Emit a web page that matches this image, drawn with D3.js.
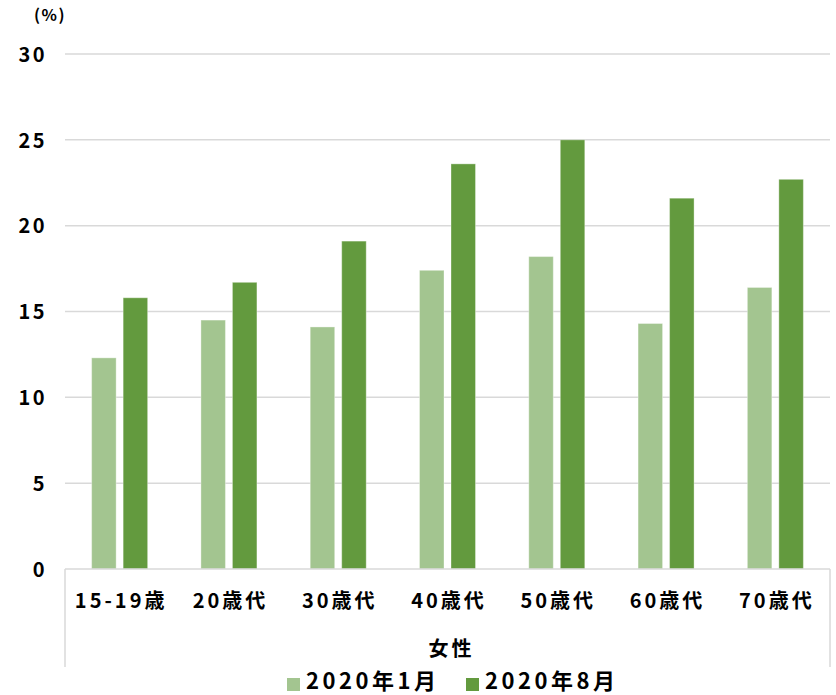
<!DOCTYPE html>
<html>
<head>
<meta charset="utf-8">
<script src="https://cdn.jsdelivr.net/npm/d3@7"></script>
<style>
  html, body { margin: 0; padding: 0; background: #fff; }
  svg { display: block; }
  text { font-family: "Noto Sans CJK JP", "Noto Sans", sans-serif; font-weight: 700; fill: #000; }
</style>
</head>
<body>
<svg id="chart" width="836" height="695"></svg>
<script>
// Age groups (women) and share by survey month, in percent
const categories = ["15-19歳", "20歳代", "30歳代", "40歳代", "50歳代", "60歳代", "70歳代"];
const seriesNames = ["2020年1月", "2020年8月"];
const jan2020 = [12.3, 14.5, 14.1, 17.4, 18.2, 14.3, 16.4];
const aug2020 = [15.8, 16.7, 19.1, 23.6, 25.0, 21.6, 22.7];
const yTicks = [0, 5, 10, 15, 20, 25, 30];
const groupLabel = "女性";
const unitLabel = "(%)";

const colors = ["#a3c590", "#639a3e"];
const gridColor = "#d9d9d9";

const svg = d3.select("#chart");
const plotLeft = 65, plotRight = 830, plotTop = 54, plotBottom = 569;

const x = d3.scaleBand().domain(categories).range([plotLeft, plotRight]).paddingInner(0).paddingOuter(0);
const y = d3.scaleLinear().domain([0, 30]).range([plotBottom, plotTop]);

// Gridlines
svg.append("g")
  .selectAll("line")
  .data(yTicks.filter(t => t > 0))
  .join("line")
  .attr("x1", plotLeft).attr("x2", plotRight)
  .attr("y1", d => y(d)).attr("y2", d => y(d))
  .attr("stroke", gridColor).attr("stroke-width", 1.5);

// Y-axis tick labels
const yAxis = d3.axisLeft(y).tickValues(yTicks).tickSize(0).tickPadding(0);
const yg = svg.append("g").attr("transform", `translate(${plotLeft - 18},0)`).call(yAxis);
yg.select(".domain").remove();
yg.selectAll("text")
  .style("font-size", "20px")
  .style("letter-spacing", "2.5px")
  .attr("dy", "0.36em");

svg.append("text")
  .attr("x", 50).attr("y", 21)
  .attr("text-anchor", "middle")
  .style("font-size", "16px")
  .style("letter-spacing", "1.5px")
  .text(unitLabel);

// Bars
const barW = 24.5, gap = 7;
const series = [jan2020, aug2020];
series.forEach((vals, si) => {
  svg.append("g")
    .selectAll("rect")
    .data(vals.map((v, i) => ({ cat: categories[i], v })))
    .join("rect")
    .attr("x", d => x(d.cat) + x.bandwidth() / 2 - gap / 2 - barW + si * (barW + gap))
    .attr("y", d => y(d.v))
    .attr("width", barW)
    .attr("height", d => plotBottom - y(d.v))
    .attr("fill", colors[si])
    .attr("stroke", "#ffffff")
    .attr("stroke-opacity", 0.35)
    .attr("stroke-width", 1);
});

// Category axis
const xg = svg.append("g").attr("transform", `translate(0,${plotBottom})`)
  .call(d3.axisBottom(x).tickSize(0).tickPadding(0));
xg.select(".domain").remove();
xg.selectAll("text")
  .attr("y", 39)
  .attr("dy", null)
  .attr("dx", 1.5)
  .style("font-size", "20px")
  .style("letter-spacing", "3px");

svg.append("line")
  .attr("x1", plotLeft).attr("x2", plotRight)
  .attr("y1", plotBottom).attr("y2", plotBottom)
  .attr("stroke", gridColor).attr("stroke-width", 1.5);
[plotLeft, plotRight].forEach(xx => {
  svg.append("line")
    .attr("x1", xx).attr("x2", xx)
    .attr("y1", plotBottom).attr("y2", 667)
    .attr("stroke", gridColor).attr("stroke-width", 1.5);
});

svg.append("text")
  .attr("x", 451.5).attr("y", 656)
  .attr("text-anchor", "middle")
  .style("font-size", "20px")
  .style("letter-spacing", "3px")
  .text(groupLabel);

// Legend
const legendItems = [
  { name: seriesNames[0], color: colors[0], x: 287 },
  { name: seriesNames[1], color: colors[1], x: 466 }
];
const lg = svg.append("g");
legendItems.forEach(it => {
  lg.append("rect")
    .attr("x", it.x).attr("y", 678)
    .attr("width", 13).attr("height", 13)
    .attr("fill", it.color);
  lg.append("text")
    .attr("x", it.x + 19).attr("y", 689)
    .style("font-size", "22px")
    .style("letter-spacing", "3.5px")
    .text(it.name);
});
</script>
</body>
</html>
